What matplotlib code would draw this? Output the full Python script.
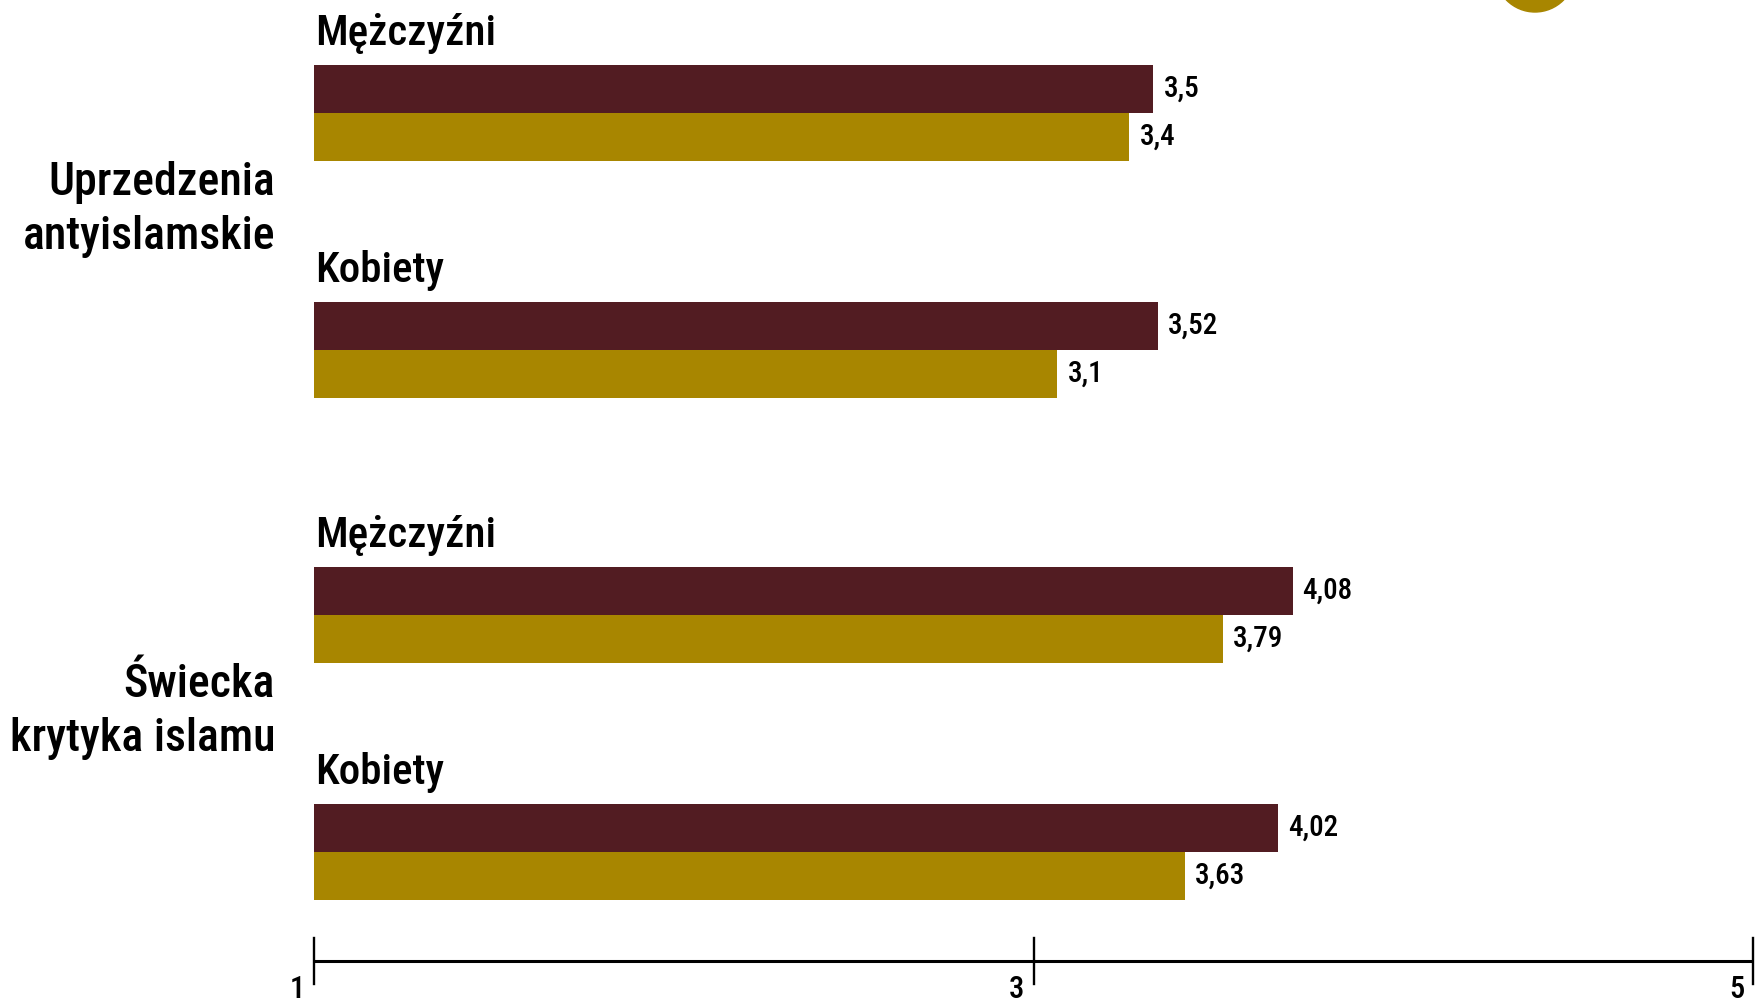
import matplotlib
matplotlib.use("Agg")
import matplotlib.pyplot as plt
from matplotlib import font_manager
from matplotlib.patches import Circle

# ---- data ----
categories = ["Uprzedzenia\nantyislamskie", "Świecka\nkrytyka islamu"]
subgroups = ["Mężczyźni", "Kobiety"]
series_dark = [[3.5, 3.52], [4.08, 4.02]]
series_gold = [[3.4, 3.1], [3.79, 3.63]]
tick_positions = [0, 3, 6]
tick_labels = ["1", "3", "5"]

DARK = "#521C22"
GOLD = "#A88600"

# ---- font ----
names = {f.name for f in font_manager.fontManager.ttflist}
stretch = "normal"
if "Roboto Condensed" in names:
    fam = "Roboto Condensed"
elif "Liberation Sans Narrow" in names:
    fam = "Liberation Sans Narrow"
else:
    fam = "DejaVu Sans"
    stretch = "condensed"
plt.rcParams["font.family"] = [fam, "DejaVu Sans"]
plt.rcParams["font.stretch"] = stretch
WEIGHT = 500

W, H = 1760, 1000
fig = plt.figure(figsize=(W / 100, H / 100), dpi=100)
x0, x1 = 314, 1753
ax = fig.add_axes([x0 / W, 0, (x1 - x0) / W, 1])
ax.set_xlim(0, 6)
ax.set_ylim(H, 0)
ax.axis("off")

bar_h = 48
first = 89
group_gap = 502
sub_gap = 237

for g, cat in enumerate(categories):
    centers = []
    for s, sub in enumerate(subgroups):
        yd = first + g * group_gap + s * sub_gap
        yg = yd + bar_h
        centers += [yd, yg]
        vd = series_dark[g][s]
        vg = series_gold[g][s]
        ax.barh(yd, vd, height=bar_h, color=DARK, left=0)
        ax.barh(yg, vg, height=bar_h, color=GOLD, left=0)
        ax.text(0.005, yd - 44, sub, fontsize=31, va="baseline", ha="left",
                color="black", fontweight=WEIGHT)
        for v, y in ((vd, yd), (vg, yg)):
            ax.annotate(f"{v:g}".replace(".", ","), xy=(v, y), xytext=(10, 0),
                        textcoords="offset pixels", va="center", ha="left",
                        fontsize=21, color="black", fontweight=WEIGHT)
    yc = sum(centers) / len(centers) - 22
    fig.text(275 / W, 1 - yc / H, cat, fontsize=33, ha="right", va="center",
             multialignment="right", linespacing=1.3, fontweight=WEIGHT)

# axis line and ticks
axis_y = 961
ax.plot([tick_positions[0], tick_positions[-1]], [axis_y, axis_y], color="black", lw=2.2,
        solid_capstyle="butt", clip_on=False)
for t, lab in zip(tick_positions, tick_labels):
    ax.plot([t, t], [938, 984], color="black", lw=1.7, clip_on=False)
    ax.annotate(lab, xy=(t, 975), xytext=(-9, 0), textcoords="offset pixels",
                ha="right", va="top", fontsize=22, color="black",
                annotation_clip=False, fontweight=WEIGHT)

# partially visible legend marker
fig.add_artist(Circle((15.35, 10.28), 0.40, transform=fig.dpi_scale_trans,
                      color=GOLD, clip_on=False))

fig.savefig("out.png", dpi=100)
